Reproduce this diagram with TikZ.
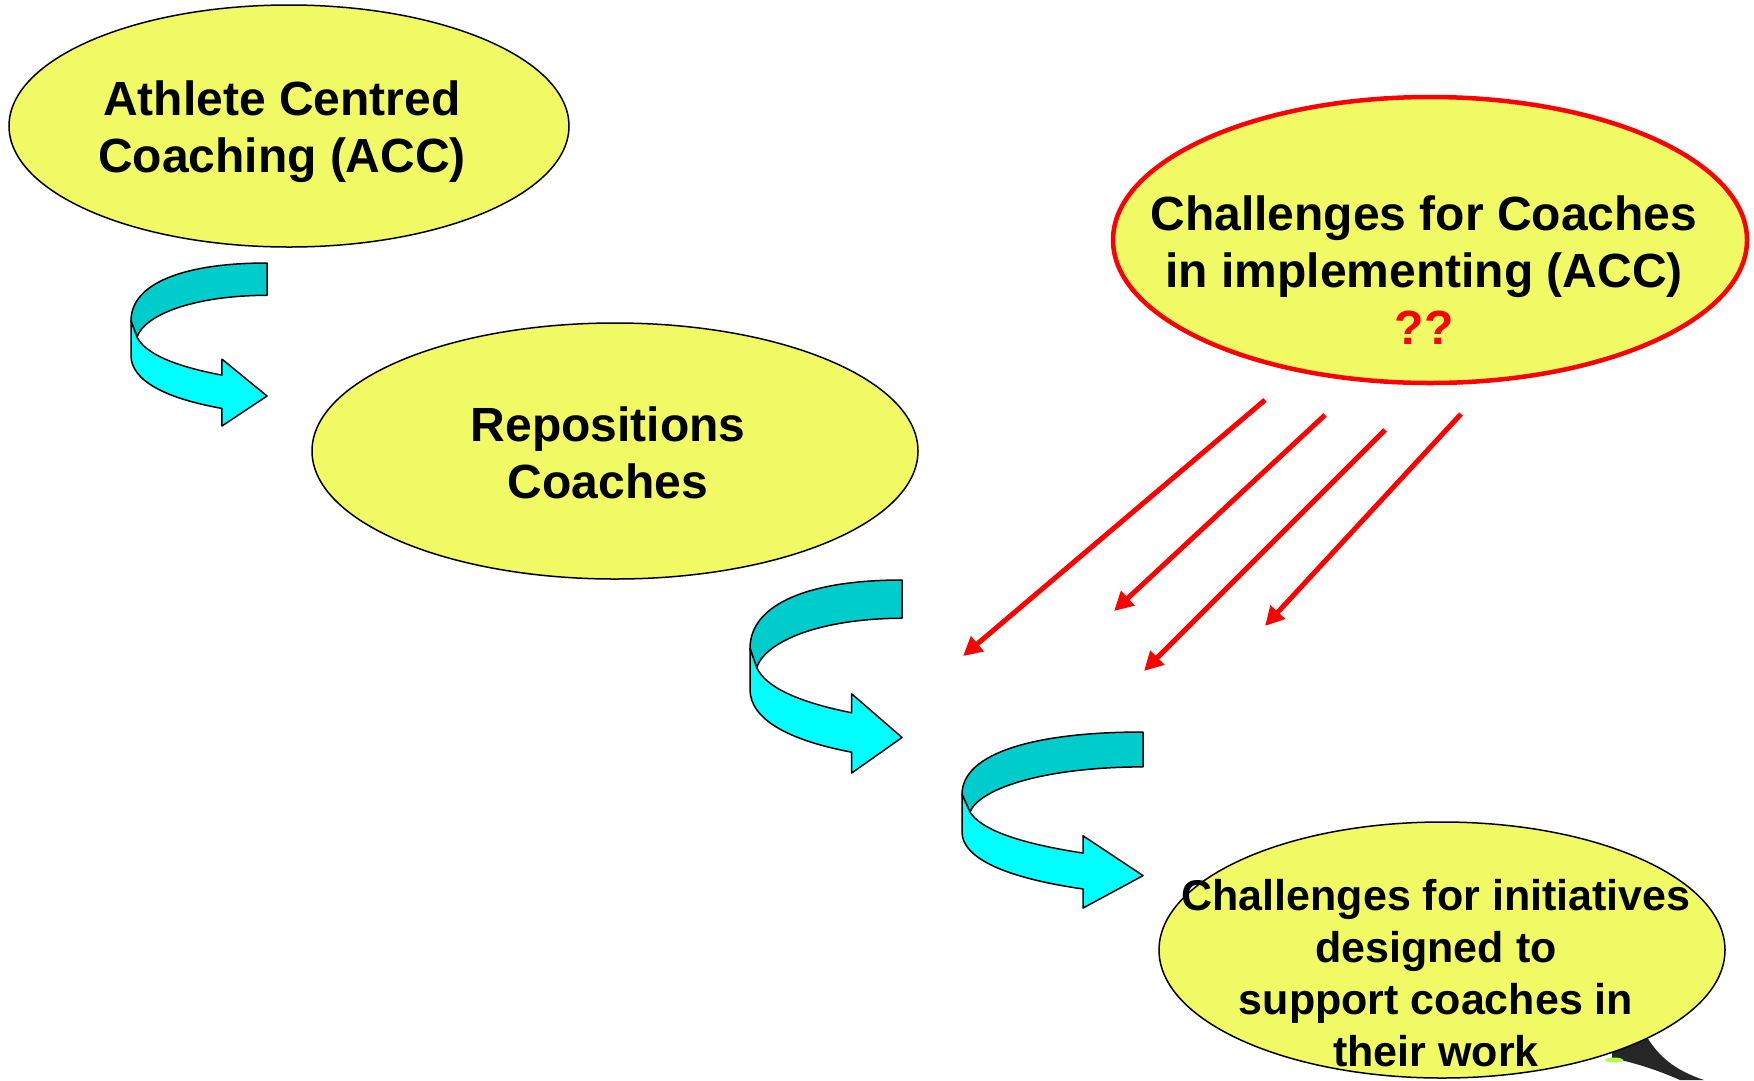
\documentclass[tikz,border=0pt]{standalone}
\usepackage{fontspec}
\setmainfont{Liberation Sans}
\usetikzlibrary{shapes.geometric,arrows.meta}
\definecolor{ellfill}{RGB}{240,250,100}
\definecolor{banddark}{RGB}{0,204,204}
\definecolor{bandlight}{RGB}{0,255,255}
\definecolor{redline}{RGB}{255,0,0}
\newcommand\curvedarrowshape[4]{%
  \begin{scope}[shift={(#1,#2)}, xscale=#3, yscale=#4]
    \filldraw[bandstyle, fill=banddark]
      (1,0) .. controls (0.4,0) and (0,0.12) .. (0,0.355)
      -- (0.044,0.454) .. controls (0.1,0.32) and (0.45,0.2) .. (1,0.198) -- cycle;
    \filldraw[bandstyle, fill=bandlight]
      (0,0.355) -- (0,0.567) .. controls (0,0.72) and (0.25,0.83) .. (0.669,0.892)
      -- (0.669,1) -- (1,0.816) -- (0.669,0.59) -- (0.669,0.688)
      .. controls (0.3,0.63) and (0.1,0.55) .. (0.044,0.454) -- cycle;
  \end{scope}}
\begin{document}
\begin{tikzpicture}[x=1pt,y=-1pt,
  bubble/.style={ellipse, draw=black, line width=1.5pt, fill=ellfill, inner sep=0pt},
  redbubble/.style={ellipse, draw=redline, line width=4.5pt, fill=ellfill, inner sep=0pt},
  bigtext/.style={align=center, font=\bfseries\fontsize{48}{57}\selectfont, inner sep=0pt},
  smalltext/.style={align=center, font=\bfseries\fontsize{43}{52}\selectfont, inner sep=0pt},
  bandstyle/.style={draw=black, line width=1.5pt, line join=round},
  challenge/.style={draw=redline, line width=5pt, -{Triangle[length=19pt,width=19pt]}}]
\useasboundingbox (0,0) rectangle (1754,1080);
\fill[white] (0,0) rectangle (1754,1080);

% ellipses
\node[bubble, minimum width=560pt, minimum height=242pt] (acc) at (289,126) {};
\node[bigtext] (acctext) at (282,132) {Athlete Centred\\Coaching (ACC)};

\node[bubble, minimum width=606pt, minimum height=256pt] (repos) at (615,451) {};
\node[bigtext] (repostext) at (608,453) {Repositions\\Coaches};

\node[redbubble, minimum width=634pt, minimum height=286pt] (chal) at (1430,240) {};
\node[bigtext] (chaltext) at (1424,270) {Challenges for Coaches\\in implementing (ACC)\\\textcolor{redline}{??}};

% partly hidden swoosh behind the bottom ellipse
\fill[black!85] (1612,1046) -- (1645,1034) .. controls (1658,1056) and (1674,1070) .. (1704,1080)
  -- (1680,1080) .. controls (1662,1072) and (1640,1064) .. (1612,1058) -- cycle;
\fill[green!45!yellow!70!white] (1614,1060) ellipse (9pt and 2.5pt);

\node[bubble, minimum width=566pt, minimum height=256pt] (init) at (1442,950) {};
\node[smalltext] (inittext) at (1436,973) {Challenges for initiatives\\designed to\\support coaches in\\their work};

% curved 3D arrows
\curvedarrowshape{131}{263}{136}{163}
\curvedarrowshape{750}{580}{152}{193}
\curvedarrowshape{962}{732}{181}{176}

% red arrows
\coordinate (s1) at (1265,400); \coordinate (t1) at (963,656);
\coordinate (s2) at (1325,415); \coordinate (t2) at (1114,611);
\coordinate (s3) at (1385,430); \coordinate (t3) at (1144,671);
\coordinate (s4) at (1461,414); \coordinate (t4) at (1265,626);
\draw[challenge] (s1) -- (t1);
\draw[challenge] (s2) -- (t2);
\draw[challenge] (s3) -- (t3);
\draw[challenge] (s4) -- (t4);
\end{tikzpicture}
\end{document}
